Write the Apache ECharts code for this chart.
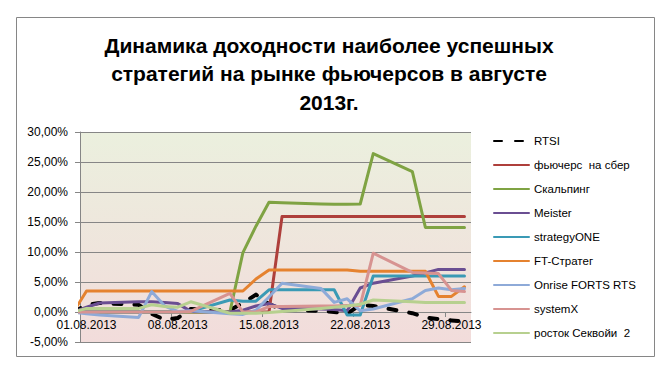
<!DOCTYPE html>
<html>
<head>
<meta charset="utf-8">
<script src="https://cdn.jsdelivr.net/npm/echarts@6/dist/echarts.min.js"></script>
<style>
html,body{margin:0;padding:0;background:#fff;}
#c{width:668px;height:379px;}
</style>
</head>
<body>
<div id="c"></div>
<script>
// ---- data (returns in %) ----
var dates = ['31.07','01.08','02.08','05.08','06.08','07.08','08.08','09.08','12.08','13.08','14.08','15.08','16.08','19.08','20.08','21.08','22.08','23.08','26.08','27.08','28.08','29.08','30.08'];
var seriesNames = ['RTSI','фьючерс  на сбер','Скальпинг','Meister','strategyONE','FT-Стратег','Onrise FORTS RTS','systemX','росток Секвойи  2'];
var rtsi      = [0, 1.2, 1.5, 1.2, -0.3, -1.3, -1.0, 0.5, 0.3, 1.5, 2.9, 1.3, 0.4, 0.2, 0.0, -0.3, 1.2, 1.0, -0.2, -0.9, -1.2, -1.4, -1.6];
var sber      = [0, 0, 0, 0, 0, 0, 0, 0, 0, 0, 0, 0, 15.9, 15.9, 15.9, 15.9, 15.9, 15.9, 15.9, 15.9, 15.9, 15.9, 15.9];
var scalping  = [0, 0, 0, 0, 0, 0, 0, 0, 0, 9.9, 14.3, 18.3, 18.2, 18.0, 17.95, 17.95, 18.0, 26.4, 23.4, 14.1, 14.1, 14.1, 14.1];
var meister   = [0, 0.8, 1.5, 1.7, 1.7, 1.6, 1.4, 0.1, 0.0, 0.3, 1.0, 1.4, 0.6, 0.5, 0.4, 0.2, 4.0, 4.8, 6.0, 6.5, 7.1, 7.1, 7.1];
var strategyOne = [0, 0, 0, 0, 0, 0, 0, 0.1, 2.0, 1.8, 1.8, 3.7, 3.7, 3.7, 3.7, -0.5, -0.5, 6.0, 6.0, 6.0, 6.0, 6.0, 6.0];
var ftStrateg = [0, 3.5, 3.5, 3.5, 3.5, 3.5, 3.5, 3.5, 3.5, 3.5, 5.5, 7.0, 7.0, 7.0, 7.0, 7.0, 6.8, 6.8, 6.8, 6.8, 2.6, 2.6, 4.2];
var onrise    = [0, -0.3, -0.5, -0.9, 3.4, 1.0, 0.1, 0.2, -0.3, -0.4, 0.3, 2.5, 4.8, 3.9, 1.6, 2.2, 0.2, 0.5, 2.2, 3.6, 4.0, 3.7, 3.9];
var systemX   = [0, 0, 0, 0, 0, 0, 0, 0.1, 3.1, 0.0, 0.0, 0.9, 0.9, 1.0, 1.0, 1.1, 1.1, 9.8, 6.6, 6.5, 6.4, 3.6, 3.4];
var sequoia   = [0, 0.6, 0.6, 0.6, 1.2, 0.9, 0.8, 1.7, -0.2, -0.2, -0.2, -0.1, 0.1, 0.6, 0.8, 1.0, 1.3, 2.0, 1.7, 1.6, 1.6, 1.6, 1.6];
var xTickLabels = ['01.08.2013','08.08.2013','15.08.2013','22.08.2013','29.08.2013'];
var yMin = -5, yMax = 30, yStep = 5;

// ---- helpers ----
// day position on the date axis: each day occupies one slot, value at slot centre
function dayPos(s){
  var p = s.split('.');
  var d = parseInt(p[0],10), m = parseInt(p[1],10);
  var day = (m === 7) ? d - 31 : d;   // 31.07 -> 0
  return day - 0.5;
}
function pairs(vals){ return dates.map(function(d,i){ return [dayPos(d), vals[i]]; }); }
var labelPos = xTickLabels.map(function(t){ return dayPos(t.slice(0,5)); });
var tickPos = labelPos.map(function(v){ return v - 0.5; });
var labelMap = {};
labelPos.forEach(function(v,i){ labelMap[v.toFixed(1)] = xTickLabels[i]; });

var colors = ['#000000','#AE3F3B','#7FA343','#6A4E92','#3A9AB5','#E5822F','#8EAAD8','#D79391','#B7D08F'];
var allVals = [rtsi, sber, scalping, meister, strategyOne, ftStrateg, onrise, systemX, sequoia];

var series = allVals.map(function(v,i){
  var ls = {color: colors[i], width: 3, cap: 'round', join: 'round'};
  if (i === 0) { ls.width = 4; ls.type = [8, 13]; }
  return {
    name: seriesNames[i], type: 'line', data: pairs(v),
    symbol: 'none', showSymbol: false, clip: true,
    lineStyle: ls, itemStyle: {color: colors[i]},
    emphasis: {disabled: true}, animation: false
  };
});

var chart = echarts.init(document.getElementById('c'), null, {renderer: 'svg'});
chart.setOption({
  animation: false,
  backgroundColor: '#ffffff',
  graphic: [
    {type: 'rect', shape: {x: 16.5, y: 17.5, width: 638, height: 339},
     style: {fill: 'none', stroke: '#868686', lineWidth: 1}, silent: true, z: -10},
    {type: 'text', x: 329, y: 31,
     style: {text: 'Динамика доходности наиболее успешных\nстратегий на рынке фьючерсов в августе\n2013г.',
       textAlign: 'center', fill: '#000', font: 'bold 21px "Liberation Sans", Arial, sans-serif', lineHeight: 28.5}}
  ],
  grid: {
    left: 80, top: 132, width: 391, height: 210, show: true, borderWidth: 0,
    backgroundColor: {type: 'linear', x: 0, y: 0, x2: 0, y2: 1,
      colorStops: [{offset: 0, color: '#EBF0DE'}, {offset: 1, color: '#F2DCDB'}]}
  },
  legend: {
    orient: 'vertical', left: 493, top: 135, padding: 0, itemWidth: 35, itemHeight: 12, itemGap: 12,
    data: seriesNames, selectedMode: false,
    itemStyle: {opacity: 0},
    textStyle: {fontFamily: '"Liberation Sans", Arial, sans-serif', fontSize: 11.5, color: '#000'}
  },
  xAxis: {
    type: 'value', min: 0, max: 30, offset: -30,
    axisLine: {show: true, onZero: false, lineStyle: {color: '#868686', width: 1}},
    axisTick: {show: true, length: 5, lineStyle: {color: '#868686'}, customValues: tickPos},
    axisLabel: {customValues: labelPos, margin: 7, color: '#000', fontSize: 12,
      fontFamily: '"Liberation Sans", Arial, sans-serif',
      formatter: function(v){ return labelMap[v.toFixed(1)] || ''; }},
    splitLine: {show: false}
  },
  yAxis: {
    type: 'value', min: yMin, max: yMax, interval: yStep,
    axisLine: {show: true, lineStyle: {color: '#868686', width: 1}},
    axisTick: {show: true, length: 5, lineStyle: {color: '#868686'}},
    axisLabel: {margin: 12, color: '#000', fontSize: 12,
      fontFamily: '"Liberation Sans", Arial, sans-serif',
      formatter: function(v){ return v.toFixed(2).replace('.', ',') + '%'; }},
    splitLine: {show: true, lineStyle: {color: '#868686', width: 1}}
  },
  series: series
});
</script>
</body>
</html>
